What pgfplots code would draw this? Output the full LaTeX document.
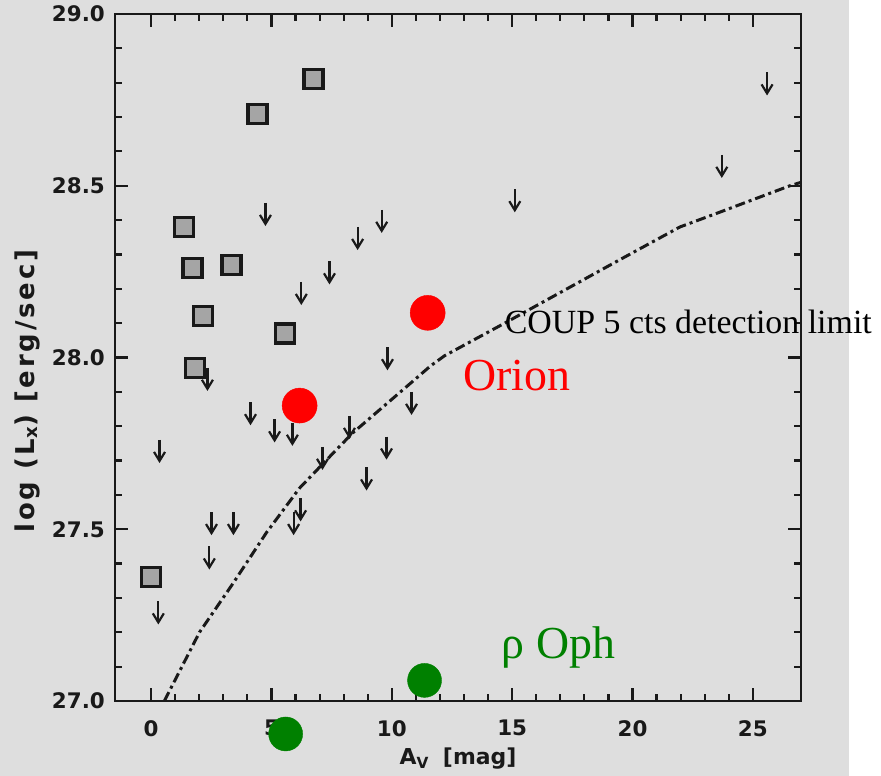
\documentclass[border=0pt]{standalone}
\usepackage{fontspec}
\setmainfont{DejaVu Sans}
\newfontfamily\serifface{Liberation Serif}
\usepackage{pgfplots}
\usepackage{pgfplotstable}
\pgfplotsset{compat=1.18}

\definecolor{panel}{RGB}{222,222,222}
\definecolor{sqfill}{RGB}{165,165,165}
\definecolor{inkgray}{RGB}{25,25,25}
\definecolor{ophgreen}{RGB}{0,128,0}

% upper limit: a short down-pointing arrow hanging from the value
\pgfdeclareplotmark{ulimit}{%
  \pgfpathmoveto{\pgfqpoint{0bp}{0bp}}%
  \pgfpathlineto{\pgfqpoint{0bp}{-20bp}}%
  \pgfusepathqstroke
  \pgfpathmoveto{\pgfqpoint{-5.5bp}{-12bp}}%
  \pgfpathlineto{\pgfqpoint{0bp}{-21bp}}%
  \pgfpathlineto{\pgfqpoint{5.5bp}{-12bp}}%
  \pgfusepathqstroke
}

% detected sources
\pgfplotstableread{
Av    logLx
6.75  28.81
4.42  28.71
1.35  28.38
1.72  28.26
3.34  28.27
2.17  28.12
5.55  28.07
1.84  27.97
0.00  27.36
}\detected

% upper limits
\pgfplotstableread{
Av     logLx
4.75   28.45
9.58   28.43
8.58   28.38
7.41   28.28
6.24   28.22
9.82   28.03
2.34   27.97
4.13   27.87
5.13   27.82
5.87   27.81
0.35   27.76
10.82  27.90
8.24   27.83
7.12   27.74
9.78   27.77
8.95   27.68
6.21   27.59
5.92   27.55
2.51   27.55
3.42   27.55
2.42   27.45
0.30   27.29
25.59  28.83
23.71  28.59
15.11  28.49
}\limits

% COUP 5-count detection limit
\pgfplotstableread{
Av     logLx
0.55   27.00
2.01   27.20
3.38   27.34
4.79   27.49
6.17   27.62
7.54   27.72
8.37   27.78
10.86  27.93
11.60  27.975
12.19  28.005
14.69  28.10
19.35  28.28
21.97  28.38
23.51  28.42
26.54  28.50
27.00  28.51
}\coup

\begin{document}
\begin{tikzpicture}
\fill[white] (0,0) rectangle (881bp,776bp);
\fill[panel] (0,0) rectangle (849bp,776bp);
\begin{axis}[
  scale only axis,
  width=686bp, height=687bp,
  anchor=south west, at={(115bp,75bp)},
  xmin=-1.5, xmax=27, ymin=27, ymax=29,
  clip=false,
  axis line style={line width=2.4bp, inkgray},
  tick style={line width=2.2bp, inkgray},
  tick align=inside,
  major tick length=13bp, minor tick length=7bp,
  xtick={0,5,10,15,20,25}, minor x tick num=4,
  ytick={27,27.5,28,28.5,29}, minor y tick num=4,
  /pgf/number format/assume math mode=true,
  ticklabel style={font=\bfseries\fontsize{21.5}{21.5}\selectfont, inner sep=0pt, text=inkgray},
  yticklabel style={/pgf/number format/.cd, fixed, fixed zerofill, precision=1, /tikz/.cd, xshift=-10bp},
  xticklabel style={yshift=-19bp},
  xlabel={A\textsubscript{V}\hspace{14bp}[mag]},
  ylabel={log (L\textsubscript{x}) [erg/sec]},
  xlabel style={at={(axis description cs:0.5,0)}, anchor=north, yshift=-47bp, inner sep=0pt,
    font=\bfseries\fontsize{22}{22}\selectfont, text=inkgray},
  ylabel style={at={(axis description cs:-0.1093,0.451)}, anchor=south, inner sep=0pt,
    font=\bfseries\addfontfeature{LetterSpace=11}\fontsize{26}{26}\selectfont, text=inkgray},
]
% detection limit curve
\addplot[inkgray, line width=3bp, dash pattern=on 10bp off 4bp on 3bp off 4bp]
  table[x=Av, y=logLx] {\coup};
% upper limits
\addplot[only marks, mark=ulimit, mark options={line width=2.2bp, inkgray, solid}]
  table[x=Av, y=logLx] {\limits};
% detections
\addplot[only marks, mark=square*, mark size=9.5bp,
  mark options={draw=inkgray, fill=sqfill, line width=3.2bp}]
  table[x=Av, y=logLx] {\detected};
% Orion
\addplot[only marks, mark=*, mark size=17.5bp, mark options={draw=red, fill=red}]
  coordinates {(6.17,27.86) (11.49,28.13)};
% rho Oph
\addplot[only marks, mark=*, mark size=17bp, mark options={draw=ophgreen, fill=ophgreen}]
  coordinates {(11.36,27.06) (5.59,26.904)};
\node[anchor=base west, inner sep=0pt, font=\serifface\fontsize{34}{34}\selectfont]
  at (axis cs:14.69,28.07) {COUP 5 cts detection limit};
\node[anchor=base west, inner sep=0pt, text=red, font=\serifface\fontsize{46}{46}\selectfont]
  at (axis cs:12.95,27.904) {Orion};
\node[anchor=base west, inner sep=0pt, text=ophgreen, font=\serifface\fontsize{46}{46}\selectfont]
  at (axis cs:14.56,27.125) {ρ Oph};
\end{axis}
\end{tikzpicture}
\end{document}
